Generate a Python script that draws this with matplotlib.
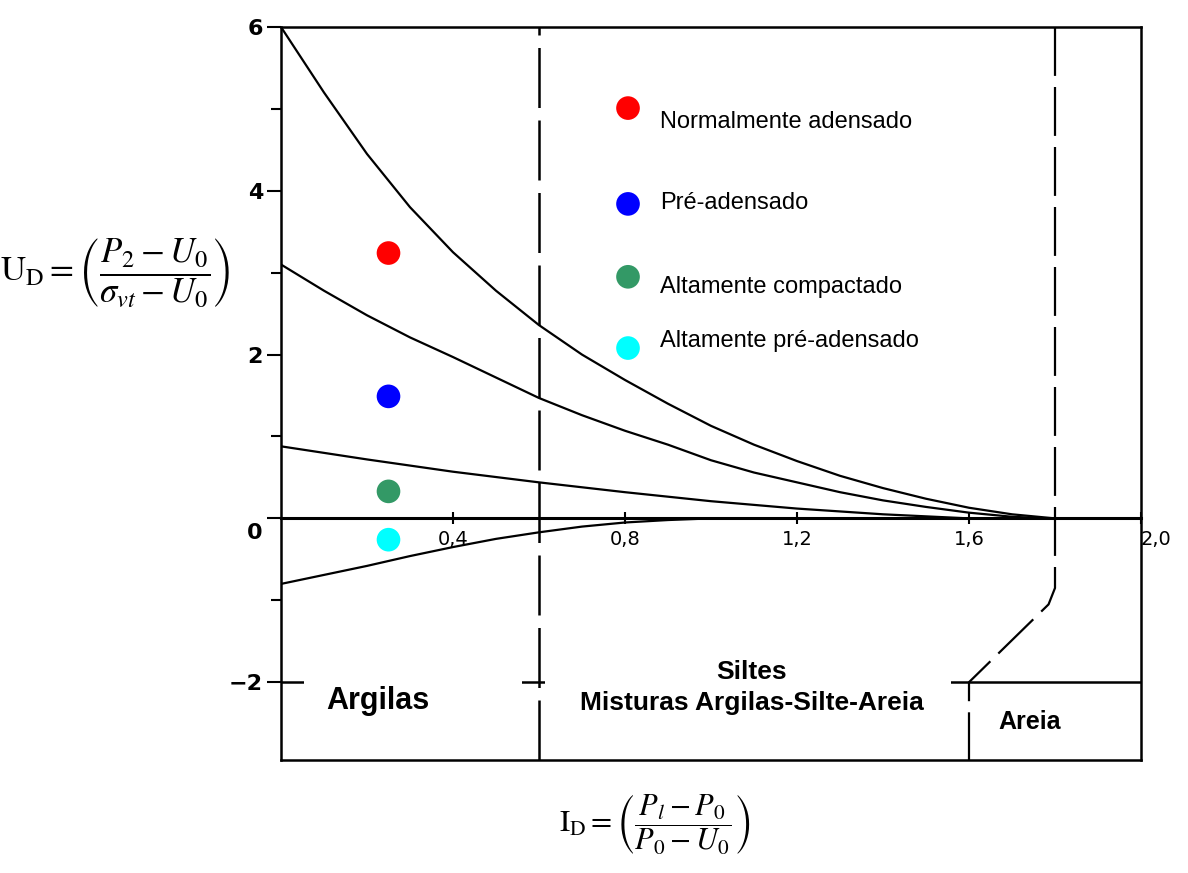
import matplotlib
matplotlib.use("Agg")
import matplotlib.pyplot as plt
from matplotlib.patches import Rectangle
from matplotlib.transforms import ScaledTranslation

plt.rcParams['mathtext.fontset'] = 'stix'

# --- boundary curves of the classification chart (I_D vs U_D) ---
curve_a_x = [0.00, 0.10, 0.20, 0.30, 0.40, 0.50, 0.60, 0.70, 0.80, 0.90, 1.00,
             1.10, 1.20, 1.30, 1.40, 1.50, 1.60, 1.70, 1.80]
curve_a_y = [6.00, 5.20, 4.45, 3.80, 3.25, 2.78, 2.36, 2.00, 1.69, 1.40, 1.13,
             0.90, 0.70, 0.52, 0.37, 0.24, 0.13, 0.05, 0.00]

curve_b_x = [0.00, 0.10, 0.20, 0.30, 0.40, 0.50, 0.60, 0.70, 0.80, 0.90, 1.00,
             1.10, 1.20, 1.30, 1.40, 1.50, 1.60, 1.70, 1.78]
curve_b_y = [3.10, 2.78, 2.48, 2.21, 1.97, 1.72, 1.47, 1.26, 1.07, 0.90, 0.71,
             0.56, 0.44, 0.32, 0.22, 0.14, 0.07, 0.02, 0.00]

curve_c_x = [0.0, 0.2, 0.4, 0.6, 0.8, 1.0, 1.2, 1.4, 1.6]
curve_c_y = [0.88, 0.72, 0.57, 0.44, 0.32, 0.21, 0.12, 0.05, 0.00]

curve_d_x = [0.0, 0.1, 0.2, 0.3, 0.4, 0.5, 0.6, 0.7, 0.8, 0.9, 1.0]
curve_d_y = [-0.80, -0.69, -0.58, -0.46, -0.35, -0.25, -0.17, -0.10, -0.05, -0.02, 0.00]

# soil-type boundaries
clay_silt_x = 0.6
silt_sand_x = [1.80, 1.80, 1.785, 1.60, 1.60]
silt_sand_y = [6.00, -0.85, -1.05, -2.00, -2.95]
zone_line_y = -2.0

# measured points
point_labels = ["Normalmente adensado", "Pré-adensado",
                "Altamente compactado", "Altamente pré-adensado"]
point_colors = ["#ff0000", "#0000ff", "#339966", "#00ffff"]
point_x = [0.25, 0.25, 0.25, 0.25]
point_y = [3.24, 1.49, 0.33, -0.26]

# key entries (marker position, text position)
key_marker_x = 0.807
key_marker_y = [5.01, 3.84, 2.95, 2.08]
key_text_x = 0.881
key_text_y = [4.84, 3.85, 2.83, 2.16]

x_ticks = [0.4, 0.8, 1.2, 1.6, 2.0]
x_tick_labels = ["0,4", "0,8", "1,2", "1,6", "2,0"]
y_major = [-2, 0, 2, 4, 6]
y_major_labels = ["\u22122", "0", "2", "4", "6"]
y_minor = [-1, 1, 3, 5]

fig = plt.figure(figsize=(11.88, 8.73), dpi=100)
ax = fig.add_axes([281 / 1188, 1 - 760 / 873, 860 / 1188, 733 / 873])
ax.set_xlim(0, 2.0)
ax.set_ylim(-2.95, 6.0)

for s in ["left", "top", "right", "bottom"]:
    ax.spines[s].set_linewidth(1.8)
    ax.spines[s].set_color("black")
ax.spines["bottom"].set_position(("data", 0))
ax.spines["bottom"].set_linewidth(2.2)
# lower frame edge
ax.axhline(-2.95, color="black", lw=1.8, clip_on=False)

ax.set_xticks(x_ticks)
ax.set_xticklabels(x_tick_labels)
ax.tick_params(axis="x", direction="inout", length=9, width=1.5, pad=4,
               labelsize=14)
ax.xaxis.get_ticklabels()[-1].set_horizontalalignment("left")

ax.set_yticks(y_major)
ax.set_yticklabels(y_major_labels, fontweight="bold")
ax.set_yticks(y_minor, minor=True)
ax.tick_params(axis="y", which="major", direction="out", length=10,
               width=1.5, pad=3, labelsize=16)
ax.tick_params(axis="y", which="minor", direction="out", length=7, width=1.5)
zero_lab = ax.get_yticklabels()[1]
zero_lab.set_transform(zero_lab.get_transform()
                       + ScaledTranslation(0, -9 / 72, fig.dpi_scale_trans))

# boundary curves
for cx, cy in [(curve_a_x, curve_a_y), (curve_b_x, curve_b_y),
               (curve_c_x, curve_c_y), (curve_d_x, curve_d_y)]:
    ax.plot(cx, cy, color="black", lw=1.6, solid_capstyle="round", zorder=2)

# dashed zone boundaries
ax.plot([clay_silt_x, clay_silt_x], [-2.95, 6.0], color="black", lw=1.8,
        dashes=(24, 5), zorder=2)
ax.plot(silt_sand_x, silt_sand_y, color="black", lw=1.6,
        dashes=(22, 5), zorder=2)
ax.axhline(zone_line_y, color="black", lw=1.8, zorder=2)

# white label panels
ax.add_patch(Rectangle((0.053, -2.70), 0.507, 0.82, facecolor="white",
                       edgecolor="none", zorder=3))
ax.add_patch(Rectangle((0.614, -2.76), 0.943, 1.20, facecolor="white",
                       edgecolor="none", zorder=3))

ax.text(0.226, -2.23, "Argilas", ha="center", va="center", fontsize=22,
        fontweight="bold", family="Liberation Sans", zorder=4)
ax.text(1.095, -1.87, "Siltes", ha="center", va="center", fontsize=19,
        fontweight="bold", family="Liberation Sans", zorder=4)
ax.text(1.095, -2.26, "Misturas Argilas-Silte-Areia", ha="center",
        va="center", fontsize=19, fontweight="bold",
        family="Liberation Sans", zorder=4)
ax.text(1.742, -2.48, "Areia", ha="center", va="center", fontsize=18,
        fontweight="bold", family="Liberation Sans", zorder=4)

# measured points
ax.scatter(point_x, point_y, s=290, c=point_colors, edgecolors="none",
           zorder=5)

# key
ax.scatter([key_marker_x] * len(key_marker_y), key_marker_y, s=290,
           c=point_colors, edgecolors="none", zorder=5)
for ty, lab in zip(key_text_y, point_labels):
    ax.text(key_text_x, ty, lab, ha="left", va="center", fontsize=17,
            family="Liberation Sans", zorder=5)

# axis formulas
fig.text(0.0968, 0.688,
         r"$\mathrm{U}_{\mathrm{D}} = \left(\dfrac{P_2 - U_0}{\sigma_{vt} - U_0}\right)$",
         ha="center", va="center", fontsize=25)
fig.text(0.551, 0.055,
         r"$\mathrm{I}_{\mathrm{D}} = \left(\dfrac{P_l - P_0}{P_0 - U_0}\right)$",
         ha="center", va="center", fontsize=22)

fig.savefig("out.png", dpi=100, facecolor="white")
